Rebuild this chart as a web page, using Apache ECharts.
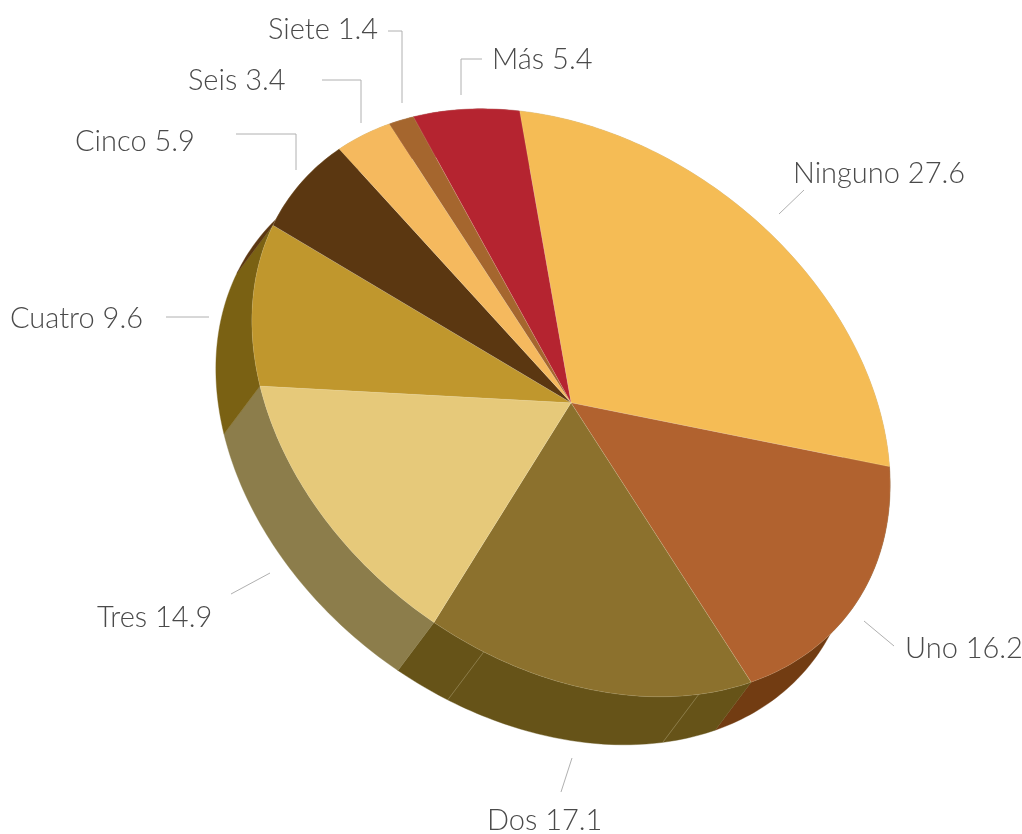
<!DOCTYPE html>
<html>
<head>
<meta charset="utf-8">
<script src="https://cdn.jsdelivr.net/npm/echarts@6/dist/echarts.min.js"></script>
<style>
html, body { margin: 0; background: #fff; }
#main { width: 1022px; height: 834px; }
</style>
</head>
<body>
<div id="main"></div>
<script>
var categories = ['Ninguno', 'Uno', 'Dos', 'Tres', 'Cuatro', 'Cinco', 'Seis', 'Siete', 'Más'];
// what the labels say
var values = [27.6, 16.2, 17.1, 14.9, 9.6, 5.9, 3.4, 1.4, 5.4];
// what the arcs measure in the picture, they do not follow the labels exactly
var arcValues = [26.95, 16.72, 16.86, 14.55, 9.56, 6.34, 3.35, 1.44, 5.72];

var topColors = ['#F5BC55', '#B1622F', '#8C712D', '#E6C97A', '#C0972D', '#5B3711', '#F5B95E', '#A5662E', '#B52430'];
var wallColors = ['#C89A45', '#723C12', '#665318', '#8C7D4B', '#7A6113', '#5B3711', '#C89A45', '#8A5426', '#8F1C26'];

// projection of the round pie onto the page
var cx = 571, cy = 402.8;
var major = 348.5, minor = 258.5, tilt = 36.8 * Math.PI / 180;
var depth = [-36, 48];
var startAngle = 231.7;

// label placement: text anchor and leader line for each category, same order
var labelPos = [
    [793, 174], [905, 649], [487, 821], [97, 618], [10, 319],
    [75, 142], [188, 81], [268, 30], [492, 60]
];
var leaders = [
    [[804, 190], [779, 214]],
    [[864, 621], [894, 646]],
    [[572, 758], [561, 792]],
    [[231, 594], [270, 573]],
    [[166, 317], [209, 317]],
    [[236, 134], [296, 134], [296, 170]],
    [[322, 80], [361, 80], [361, 123]],
    [[388, 31], [402, 31], [402, 103]],
    [[482, 59], [461, 59], [461, 95]]
];
var seams = [[2, 0.18], [2, 0.84]];

var total = arcValues.reduce(function (a, b) { return a + b; }, 0);

function project(deg, dx, dy) {
    var t = deg * Math.PI / 180;
    var u = major * Math.cos(t), v = minor * Math.sin(t);
    return [
        cx + u * Math.cos(tilt) - v * Math.sin(tilt) + (dx || 0),
        cy + u * Math.sin(tilt) + v * Math.cos(tilt) + (dy || 0)
    ];
}

function sliceAngles(index) {
    var before = 0;
    for (var i = 0; i < index; i++) before += arcValues[i];
    return [startAngle + before / total * 360, startAngle + (before + arcValues[index]) / total * 360];
}

function arc(from, to, dx, dy) {
    var pts = [], n = Math.max(4, Math.ceil(to - from));
    for (var i = 0; i <= n; i++) pts.push(project(from + (to - from) * i / n, dx, dy));
    return pts;
}

function renderWall(params, api) {
    var a = sliceAngles(api.value(1));
    var pts = arc(a[0], a[1], 0, 0).concat(arc(a[0], a[1], depth[0], depth[1]).reverse());
    var children = [{
        type: 'polygon',
        shape: { points: pts },
        style: { fill: wallColors[api.value(1)], stroke: wallColors[api.value(1)], lineWidth: 0.4 }
    }];
    seams.forEach(function (s) {
        if (s[0] !== api.value(1)) return;
        var p = project(a[0] + (a[1] - a[0]) * s[1]);
        children.push({
            type: 'line',
            shape: { x1: p[0], y1: p[1], x2: p[0] + depth[0], y2: p[1] + depth[1] },
            style: { stroke: 'rgba(215,205,170,0.55)', lineWidth: 0.6 }
        });
    });
    return { type: 'group', children: children };
}

function renderTop(params, api) {
    var a = sliceAngles(api.value(1));
    return {
        type: 'polygon',
        shape: { points: [[cx, cy]].concat(arc(a[0], a[1], 0, 0)) },
        style: { fill: topColors[api.value(1)], stroke: 'rgba(255,245,215,0.25)', lineWidth: 0.5 }
    };
}

var sliceData = arcValues.map(function (v, i) { return [v, i]; });

var graphics = [];
categories.forEach(function (name, i) {
    graphics.push({
        type: 'polyline',
        silent: true,
        shape: { points: leaders[i] },
        style: { fill: null, stroke: '#b0b0b0', lineWidth: 1 }
    });
    graphics.push({
        type: 'text',
        silent: true,
        x: labelPos[i][0],
        y: labelPos[i][1],
        style: {
            text: name + ' ' + values[i].toFixed(1),
            fill: '#4a4a4a',
            font: '300 29px Lato',
            textVerticalAlign: 'middle'
        }
    });
});

var myChart = echarts.init(document.getElementById('main'), null, { renderer: 'canvas' });
myChart.setOption({
    animation: false,
    backgroundColor: '#fff',
    series: [
        { type: 'custom', coordinateSystem: 'none', silent: true, z: 1, data: sliceData, renderItem: renderWall },
        { type: 'custom', coordinateSystem: 'none', silent: true, z: 2, data: sliceData, renderItem: renderTop }
    ],
    graphic: graphics
});
</script>
</body>
</html>
